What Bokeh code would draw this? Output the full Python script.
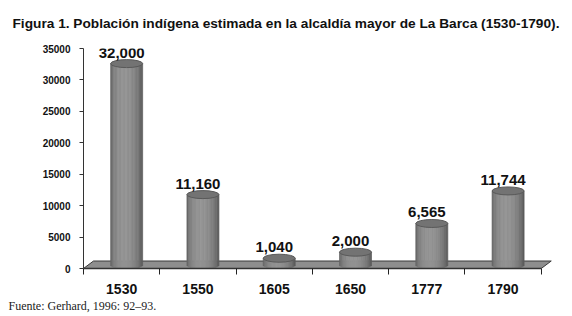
import numpy as np
from bokeh.plotting import figure
from bokeh.models import Range1d, FixedTicker, Title, ColumnDataSource
from bokeh.core.properties import value
from bokeh.embed import file_html
from bokeh.resources import INLINE

# ---- data ----
years = ["1530", "1550", "1605", "1650", "1777", "1790"]
population = [32000, 11160, 1040, 2000, 6565, 11744]
value_labels = ["32,000", "11,160", "1,040", "2,000", "6,565", "11,744"]
y_ticks = [0, 5000, 10000, 15000, 20000, 25000, 30000, 35000]
title_text = "Figura 1. Población indígena estimada en la alcaldía mayor de La Barca (1530-1790)."
source_text = "Fuente: Gerhard, 1996: 92\u201393."

# ---- styling constants ----
PX_Y = 35000 / 220.0          # data units per pixel (y)
PX_X = 1 / 76.3               # data units per pixel (x)
depth_dx = 10 * PX_X
depth_dy = 7.5 * PX_Y
bar_w = 32 * PX_X
ell_h = 8 * PX_Y
n_strips = 24

p = figure(width=572, height=316, output_backend="svg", toolbar_location=None,
           x_range=Range1d(0, 6.2), y_range=Range1d(0, 35000),
           min_border_left=83, min_border_right=16, min_border_top=48, min_border_bottom=48)
p.outline_line_color = None
p.grid.visible = False
p.background_fill_color = "white"

t = Title(text=title_text + "\n", align="left", offset=-71, standoff=5,
          text_font="Liberation Sans", text_font_size="13.7px",
          text_font_style="bold", text_color="#111111")
p.add_layout(t, "above")

n = len(years)
cx = [i + 0.5 for i in range(n)]

# floor
p.patch([0, 6, 6 + depth_dx, depth_dx], [0, 0, depth_dy, depth_dy],
        fill_color="#8e8e8e", line_color="#3a3a3a", line_width=1)

# cylinders
base = depth_dy / 2
sw = bar_w / n_strips
L, R, bots, tops, cols = [], [], [], [], []
for i, v in enumerate(population):
    bx = cx[i] + depth_dx / 2
    for k in range(n_strips):
        u = -1 + (2 * k + 1) / n_strips
        b = (1 - u * u) ** 0.3
        tilt = 1 - 0.2 * (u + 0.3) ** 2
        g = int(68 + 80 * b * tilt)
        xc = bx + u * bar_w / 2
        L.append(xc - sw / 2)
        R.append(xc + sw / 2)
        bots.append(base - (ell_h / 2) * np.sqrt(max(0.0, 1 - u * u)))
        tops.append(base + v)
        cols.append("#%02x%02x%02x" % (g, g, g))
src = ColumnDataSource(dict(left=L, right=R, bottom=bots, top=tops, color=cols))
p.quad(left="left", right="right", bottom="bottom", top="top",
       fill_color="color", line_color="color", line_width=0.7, source=src)

tops_src = ColumnDataSource(dict(x=[c + depth_dx / 2 for c in cx],
                                 y=[base + v for v in population]))
p.ellipse(x="x", y="y", width=bar_w, height=ell_h, source=tops_src,
          fill_color="#737373", line_color="#595959", line_width=1)

lab_src = ColumnDataSource(dict(x=cx, y=[base + v for v in population], t=value_labels))
p.text(x="x", y="y", text="t", source=lab_src, text_align="center", text_baseline="middle",
       y_offset=-11, text_font=value("Liberation Sans"), text_font_size="15px",
       text_font_style="bold", text_color="#111111")

# axes
xa = p.xaxis[0]
xa.ticker = FixedTicker(ticks=cx, minor_ticks=list(range(7)))
xa.major_label_overrides = {c: y for c, y in zip(cx, years)}
xa.bounds = (0, 6)
xa.axis_line_color = "#333333"
xa.axis_line_width = 1.5
xa.major_tick_line_color = None
xa.major_tick_out = 7
xa.major_tick_in = 0
xa.minor_tick_line_color = "#222222"
xa.minor_tick_out = 6
xa.minor_tick_in = 0
xa.major_label_standoff = 8
xa.major_label_text_font = "Liberation Sans"
xa.major_label_text_font_size = "14px"
xa.major_label_text_font_style = "bold"
xa.major_label_text_color = "#111111"

ya = p.yaxis[0]
ya.ticker = FixedTicker(ticks=y_ticks, minor_ticks=[])
ya.bounds = (0, 35000)
ya.axis_line_color = "#333333"
ya.major_tick_line_color = "#333333"
ya.major_tick_out = 4
ya.major_tick_in = 0
ya.major_label_standoff = 9
ya.major_label_text_font = "Liberation Sans"
ya.major_label_text_font_size = "10px"
ya.major_label_text_font_style = "bold"
ya.major_label_text_color = "#111111"

foot = Title(text=source_text, align="left", offset=-75, standoff=0,
             text_font="Liberation Serif", text_font_size="12px",
             text_font_style="normal", text_color="#222222")
p.add_layout(foot, "below")

open("out.html", "w").write(file_html(p, INLINE))
